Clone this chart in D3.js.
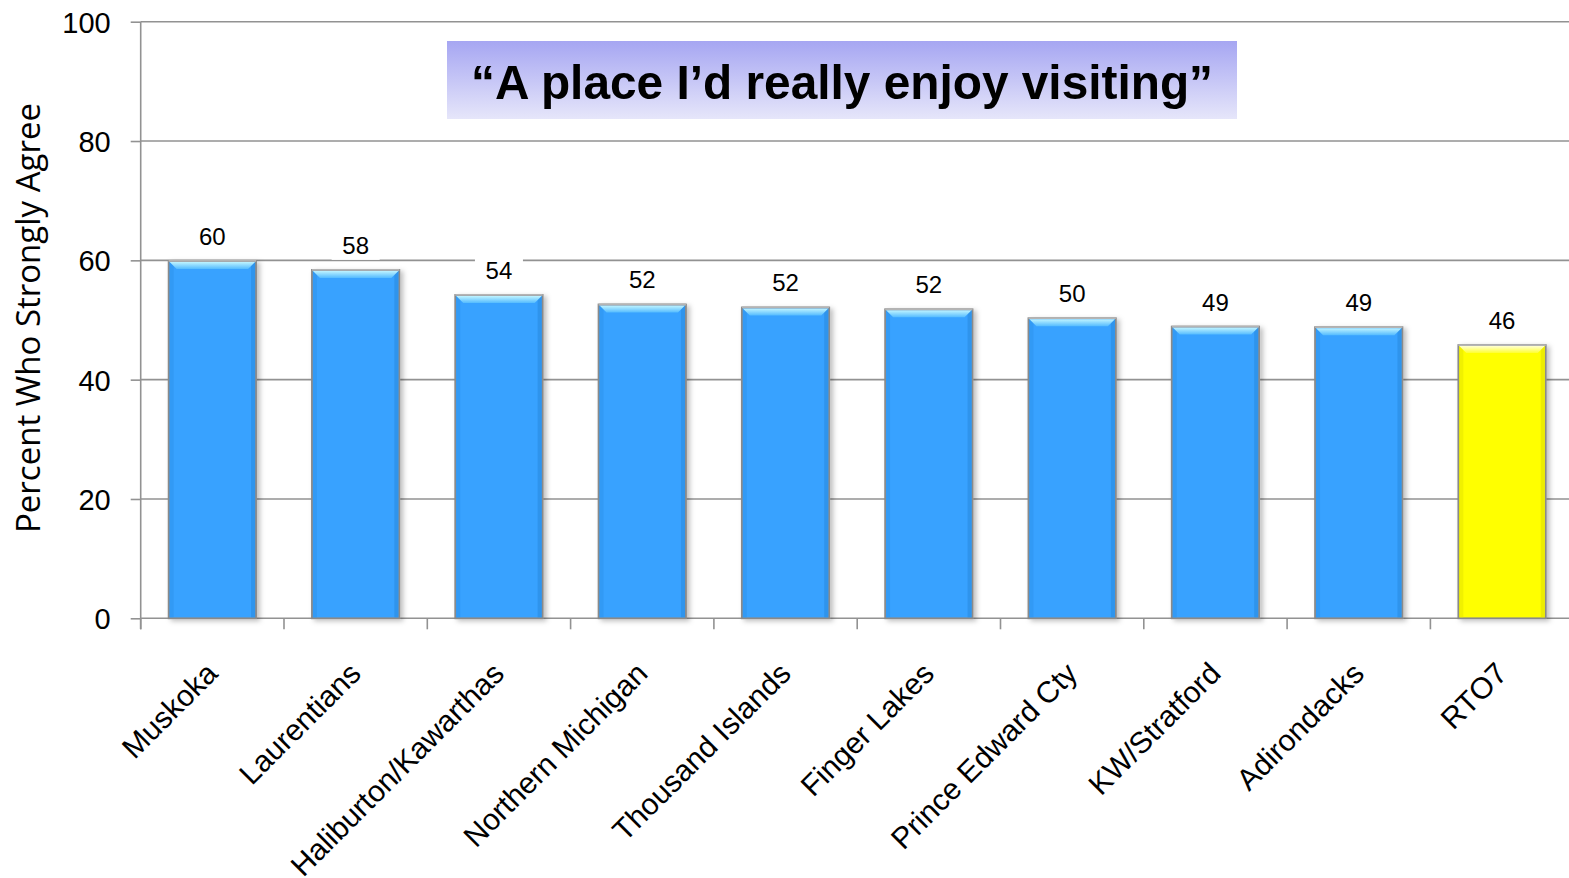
<!DOCTYPE html>
<html>
<head>
<meta charset="utf-8">
<script src="https://cdn.jsdelivr.net/npm/d3@7"></script>
<style>
  html, body { margin: 0; padding: 0; background: #fff; }
  svg { display: block; }
</style>
</head>
<body>
<svg id="chart" width="1569" height="878"></svg>
<script>
const categories = ["Muskoka", "Laurentians", "Haliburton/Kawarthas", "Northern Michigan", "Thousand Islands", "Finger Lakes", "Prince Edward Cty", "KW/Stratford", "Adirondacks", "RTO7"];
const values = [59.9, 58.4, 54.2, 52.6, 52.1, 51.8, 50.3, 48.9, 48.8, 45.8];
const valueLabels = ["60", "58", "54", "52", "52", "52", "50", "49", "49", "46"];
const highlight = ["RTO7"];
const yTicks = [0, 20, 40, 60, 80, 100];
const titleText = "\u201CA place I\u2019d really enjoy visiting\u201D";
const yAxisTitle = "Percent Who Strongly Agree";

(function () {
const svg = d3.select("#chart");
const mLeft = 140.7, mTop = 21.7, mBottom = 618.3, bandW = 143.3;

const x = d3.scaleBand().domain(categories).range([mLeft, mLeft + bandW * categories.length]).paddingInner(0.39).paddingOuter(0.195);
const y = d3.scaleLinear().domain([0, 100]).range([mBottom, mTop]);

const defs = svg.append("defs");
function grad(id, stops, x1, y1, x2, y2) {
  const g = defs.append("linearGradient").attr("id", id)
    .attr("x1", x1).attr("y1", y1).attr("x2", x2).attr("y2", y2);
  stops.forEach(s => g.append("stop").attr("offset", s[0]).attr("stop-color", s[1]));
}
grad("topBlue", [["0%", "#c0f4ff"], ["100%", "#55bcff"]], "0", "0", "0", "1");
grad("topYel", [["0%", "#ffffd0"], ["100%", "#ffff30"]], "0", "0", "0", "1");
grad("titleGrad", [["0%", "#a6a6f2"], ["100%", "#e6e6fa"]], "0", "0", "0", "1");
const sh = defs.append("filter").attr("id", "shadow").attr("x", "-20%").attr("y", "-20%").attr("width", "140%").attr("height", "140%");
sh.append("feDropShadow").attr("dx", 3).attr("dy", 2).attr("stdDeviation", 2.5).attr("flood-color", "#000").attr("flood-opacity", 0.25);

// gridlines
svg.append("g").selectAll("line").data(yTicks.filter(d => d > 0)).join("line")
  .attr("x1", mLeft).attr("x2", 1569)
  .attr("y1", d => y(d)).attr("y2", d => y(d))
  .attr("stroke", "#929292").attr("stroke-width", 1.6);

// y axis
const yAxis = d3.axisLeft(y).tickValues(yTicks).tickSize(10).tickPadding(20);
const yg = svg.append("g").attr("transform", `translate(${mLeft},0)`).call(yAxis);
yg.select(".domain").attr("stroke", "#929292").attr("stroke-width", 1.6).attr("d", `M0,${mTop}V${mBottom + 11}`);
yg.selectAll(".tick line").attr("stroke", "#929292").attr("stroke-width", 1.6);
yg.selectAll(".tick text").attr("font-family", "Liberation Sans, Arial, sans-serif").attr("font-size", 29).attr("fill", "#000").attr("dy", "0.36em");

// x axis
const edges = d3.range(categories.length + 1).map(i => mLeft + i * x.step());
svg.append("line").attr("x1", mLeft).attr("x2", 1569).attr("y1", mBottom).attr("y2", mBottom)
  .attr("stroke", "#929292").attr("stroke-width", 1.6);
svg.append("g").selectAll("line").data(edges).join("line")
  .attr("x1", d => d).attr("x2", d => d).attr("y1", mBottom).attr("y2", mBottom + 11)
  .attr("stroke", "#929292").attr("stroke-width", 1.6);

// bars
const bars = svg.append("g").selectAll("g").data(categories).join("g");
bars.each(function(c, i) {
  const g = d3.select(this);
  const isH = highlight.includes(c);
  const x0 = x(c), w = x.bandwidth(), yt = y(values[i]), h = mBottom - yt;
  g.append("rect").attr("x", x0).attr("y", yt).attr("width", w).attr("height", h)
    .attr("fill", isH ? "#ffff00" : "#38a2ff").attr("stroke", "#8a8a8a").attr("stroke-width", 1.8)
    .attr("filter", "url(#shadow)");
  const b = 7;
  g.append("rect").attr("x", x0 + 1).attr("y", yt + 1).attr("width", 4).attr("height", h - 2)
    .attr("fill", isH ? "#e8e800" : "#2f94ee").attr("opacity", 0.6);
  g.append("rect").attr("x", x0 + w - 5).attr("y", yt + 1).attr("width", 4).attr("height", h - 2)
    .attr("fill", isH ? "#e0e000" : "#2a8ae0").attr("opacity", 0.6);
  g.append("path")
    .attr("d", `M${x0 + 1},${yt + 1}H${x0 + w - 1}L${x0 + w - 1 - b},${yt + 1 + b}H${x0 + 1 + b}Z`)
    .attr("fill", isH ? "url(#topYel)" : "url(#topBlue)");
  g.append("line").attr("x1", x0).attr("x2", x0 + w).attr("y1", yt).attr("y2", yt)
    .attr("stroke", "#b4b4b4").attr("stroke-width", 1.8);
});

// value labels
const lab = svg.append("g").selectAll("g").data(categories).join("g")
  .attr("transform", (c, i) => `translate(${x(c) + x.bandwidth() / 2},${y(values[i]) - 16})`);
lab.append("rect").attr("x", -24).attr("y", -25).attr("width", 48).attr("height", 31).attr("fill", "#fff");
lab.append("text").attr("text-anchor", "middle")
  .attr("font-family", "Liberation Sans, Arial, sans-serif").attr("font-size", 24).attr("fill", "#000")
  .text((c, i) => valueLabels[i]);

// category labels
svg.append("g").selectAll("text").data(categories).join("text")
  .attr("transform", c => `translate(${x(c) + x.bandwidth() / 2 + 7},${mBottom + 57}) rotate(-45)`)
  .attr("text-anchor", "end")
  .attr("font-family", "Liberation Sans, Arial, sans-serif").attr("font-size", 30).attr("fill", "#000")
  .text(c => c);

// y axis title
svg.append("text").attr("transform", `translate(40,318) rotate(-90)`)
  .attr("text-anchor", "middle")
  .attr("font-family", "Open Sans, sans-serif").attr("font-size", 33).attr("fill", "#000")
  .text(yAxisTitle);

// title box
svg.append("rect").attr("x", 447).attr("y", 41).attr("width", 790).attr("height", 78).attr("fill", "url(#titleGrad)");
svg.append("text").attr("x", 842).attr("y", 99).attr("text-anchor", "middle")
  .attr("font-family", "Liberation Sans Narrow, Liberation Sans, Arial, sans-serif").attr("font-weight", "bold")
  .attr("font-size", 49).attr("fill", "#000")
  .attr("textLength", 742).attr("lengthAdjust", "spacingAndGlyphs")
  .text(titleText);
})();
</script>
</body>
</html>
